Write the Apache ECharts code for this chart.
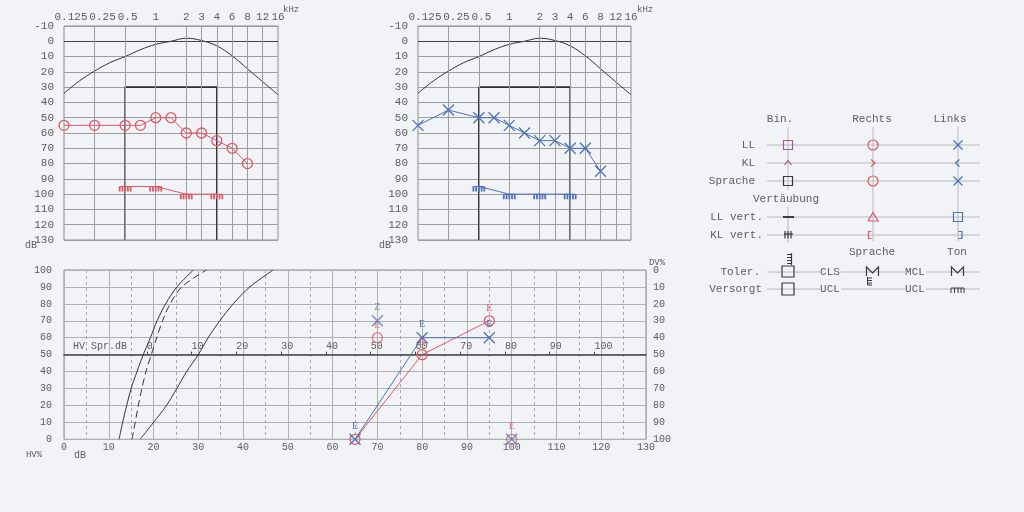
<!DOCTYPE html>
<html>
<head>
<meta charset="utf-8">
<script src="https://cdn.jsdelivr.net/npm/echarts@6/dist/echarts.min.js"></script>
<style>
  html, body { margin: 0; padding: 0; background: #f2f3f7; }
  #chart { width: 1024px; height: 512px; }
</style>
</head>
<body>
<div id="chart"></div>
<script>
  // Tonaudiogramm: Frequenzspalten in Halboktaven (kHz)
  const freqs = ['0.125', '0.18', '0.25', '0.35', '0.5', '0.75', '1', '1.5', '2', '3', '4', '6', '8', '12', '16'];
  const freqHidden = ['0.18', '0.35', '0.75', '1.5'];
  const gridFreqs = ['0.25', '0.5', '1', '2', '3', '4', '6', '8', '12'];
  const dbRange = [-10, 130];

  // Hörschwelle normal (schwarze Kurve)
  const normalCurve = [34, 26, 19.5, 14, 10, 5.5, 2, 0, -2, -0.5, 3, 9.5, 18, 26.5, 35];
  // Kasten 0.5 - 4 kHz
  const boxFreqs = ['0.5', '0.5', '4', '4'];
  const boxDb = [130, 30, 30, 130];

  // Luftleitung
  const acFreqs = ['0.125', '0.25', '0.5', '0.75', '1', '1.5', '2', '3', '4', '6', '8'];
  const rightAc = [55, 55, 55, 55, 50, 50, 60, 60, 65, 70, 80];
  const leftAc = [55, 45, 50, 50, 55, 60, 65, 65, 70, 70, 85];
  // Unbehaglichkeitsschwelle (UCL)
  const uclFreqs = ['0.5', '1', '2', '4'];
  const rightUcl = [95, 95, 100, 100];
  const leftUcl = [95, 100, 100, 100];

  // Sprachaudiogramm: Normkurven (dB, %)
  const curvePct = [0, 10, 20, 30, 40, 50, 60, 70, 80, 90, 100];
  const numberCurveDb = [12.3, 13.1, 14, 15, 16.3, 17.7, 19.3, 20.8, 22.7, 25.2, 28.9];
  const dashCurveDb = [15.2, 15.9, 16.6, 17.4, 18.3, 19.5, 20.7, 22, 23.7, 26.3, 31.8];
  const monoCurveDb = [17, 20, 22.9, 25.2, 27.4, 30, 32.2, 34.8, 37.8, 41.5, 46.7];
  const hvLabels = [0, 10, 20, 30, 40, 50, 60, 70, 80, 90, 100];

  // Sprachverstehen
  const speechDb = [65, 80, 95];
  const rightSpeech = [0, 50, 70];
  const rightSpeechTag = ['', 'E', 'E'];
  const leftSpeech = [0, 60, 60];
  const leftSpeechTag = ['E', 'E', 'E'];
  const rightExtraDb = [70, 100];
  const rightExtraPct = [60, 0];
  const rightExtraTag = ['E', 'E'];
  const leftExtraDb = [70, 100];
  const leftExtraPct = [70, 0];
  const leftExtraTag = ['Z', ''];

  const RED = '#dc5a68';
  const BLUE = '#4d72b8';
  const PURPLE = '#9c5c9c';
  const INK = '#3a3a3a';
  const TXT = '#5c5c5c';
  const MONO = '"Liberation Mono", "DejaVu Sans Mono", monospace';
  const X_PATH = 'path://M0,0L10,10M10,0L0,10';
  const UCL_PATH = 'path://M0,0L12,0M0,0L0,6M3,0L3,6M6,0L6,6M9,0L9,6M12,0L12,6';

  const fIdx = (f) => freqs.indexOf(f);
  const zipF = (fs, vals) => fs.map((f, i) => [fIdx(f), vals[i]]);
  const zip = (a, b) => a.map((v, i) => [v, b[i]]);

  const freqAxis = (gridIndex) => ({
    type: 'value',
    gridIndex,
    min: 0,
    max: freqs.length - 1,
    interval: 1,
    position: 'top',
    axisLine: { show: false },
    axisTick: { show: false },
    splitLine: { show: false },
    axisLabel: {
      margin: 3,
      color: TXT,
      fontSize: 11,
      fontFamily: MONO,
      formatter: (v) => {
        const f = freqs[v];
        if (!f || freqHidden.includes(f)) return '';
        if (f === '0.125') return '{a|' + f + '}';
        if (f === '0.25') return '{b|' + f + '}';
        if (f === '0.5') return '{c|' + f + '}';
        return f;
      },
      rich: {
        a: { padding: [0, 0, 0, 14], fontSize: 11, fontFamily: MONO, color: TXT },
        b: { padding: [0, 0, 0, 16], fontSize: 11, fontFamily: MONO, color: TXT },
        c: { padding: [0, 0, 0, 5], fontSize: 11, fontFamily: MONO, color: TXT },
      },
    },
  });

  const dbAxis = (gridIndex) => ({
    type: 'value',
    gridIndex,
    inverse: true,
    min: dbRange[0],
    max: dbRange[1],
    interval: 10,
    axisLine: { show: false },
    axisTick: { show: false },
    axisLabel: { margin: 10, color: TXT, fontSize: 11, fontFamily: MONO },
    splitLine: { lineStyle: { color: '#9c9c9c', width: 1 } },
  });

  const audioSeries = (idx, ac, ucl, color, symbol, size) => [
    {
      type: 'line',
      xAxisIndex: idx,
      yAxisIndex: idx,
      data: normalCurve.map((v, i) => [i, v]),
      smooth: 0.4,
      symbol: 'none',
      lineStyle: { color: '#333', width: 1 },
      silent: true,
      markLine: {
        silent: true,
        symbol: 'none',
        label: { show: false },
        animation: false,
        data: [
          { yAxis: 0, lineStyle: { color: '#444', width: 1.2, type: 'solid' } },
          ...gridFreqs.map((f) => ({ xAxis: fIdx(f), lineStyle: { color: '#9c9c9c', width: 1, type: 'solid' } })),
        ],
      },
    },
    {
      type: 'line',
      xAxisIndex: idx,
      yAxisIndex: idx,
      data: zipF(boxFreqs, boxDb),
      symbol: 'none',
      lineStyle: { color: '#2e2e2e', width: 1.6 },
      silent: true,
      z: 3,
    },
    {
      type: 'line',
      xAxisIndex: idx,
      yAxisIndex: idx,
      data: zipF(acFreqs, ac),
      symbol,
      symbolSize: size,
      lineStyle: { color, width: 1 },
      itemStyle: { color: 'rgba(0,0,0,0)', borderColor: color, borderWidth: 1.3 },
      z: 5,
    },
    {
      type: 'line',
      xAxisIndex: idx,
      yAxisIndex: idx,
      data: zipF(uclFreqs, ucl),
      symbol: UCL_PATH,
      symbolSize: [11, 5],
      symbolOffset: [0, 2.5],
      lineStyle: { color, width: 1 },
      itemStyle: { color: 'rgba(0,0,0,0)', borderColor: color, borderWidth: 1.2 },
      z: 5,
    },
  ];

  const tagLabel = (tags, color) => ({
    show: true,
    position: 'top',
    distance: 2,
    color,
    fontSize: 10,
    fontFamily: '"Liberation Serif", serif',
    formatter: (p) => tags[p.dataIndex],
  });

  // Legende rechts
  const T = (x, y, s, align, size) => ({
    type: 'text', x, y, silent: true,
    style: { text: s, fill: TXT, font: (size || 11) + 'px ' + MONO, align: align || 'center', verticalAlign: 'middle' },
  });
  const L = (x1, y1, x2, y2, color, w) => ({
    type: 'line', silent: true, shape: { x1, y1, x2, y2 },
    style: { stroke: color || '#b9b9b9', lineWidth: w || 1 },
  });
  const P = (points, color, w) => ({
    type: 'polyline', silent: true, shape: { points },
    style: { stroke: color, fill: 'none', lineWidth: w || 1.2 },
  });
  const C = (cx, cy, r, color) => ({
    type: 'circle', silent: true, shape: { cx, cy, r },
    style: { stroke: color, fill: 'none', lineWidth: 1.2 },
  });
  const R = (x, y, w, h, color) => ({
    type: 'rect', silent: true, shape: { x, y, width: w, height: h },
    style: { stroke: color, fill: 'none', lineWidth: 1.2 },
  });

  const legend = [];
  [145, 163, 181, 217, 235].forEach((y) => legend.push(L(767, y, 980, y)));
  [272, 289].forEach((y) => {
    legend.push(L(767, y, 820, y), L(841, y, 905, y), L(926, y, 980, y));
  });
  legend.push(L(788, 127, 788, 190), L(788, 207, 788, 243), L(873, 127, 873, 241), L(958, 127, 958, 241));
  legend.push(
    T(780, 119, 'Bin.'), T(872, 119, 'Rechts'), T(950, 119, 'Links'),
    T(755, 145, 'LL', 'right'), T(755, 163, 'KL', 'right'), T(755, 181, 'Sprache', 'right'),
    T(786, 199, 'Vertäubung'),
    T(763, 217, 'LL vert.', 'right'), T(763, 235, 'KL vert.', 'right'),
    T(872, 252, 'Sprache'), T(957, 252, 'Ton'),
    T(760, 272, 'Toler.', 'right'), T(762, 289, 'Versorgt', 'right'),
    T(830, 272, 'CLS'), T(915, 272, 'MCL'), T(830, 289, 'UCL'), T(915, 289, 'UCL')
  );
  legend.push(
    R(783.5, 140.5, 9, 9, PURPLE),
    P([[784.5, 165], [788, 160.5], [791.5, 165]], PURPLE),
    R(783.5, 176.5, 9, 9, INK),
    C(873, 145, 5, RED),
    P([[871, 159.5], [875, 163], [871, 166.5]], RED),
    C(873, 181, 5, RED),
    P([[953.5, 140.5], [962.5, 149.5]], BLUE), P([[962.5, 140.5], [953.5, 149.5]], BLUE),
    P([[959.5, 159.5], [955.5, 163], [959.5, 166.5]], BLUE),
    P([[953.5, 176.5], [962.5, 185.5]], BLUE), P([[962.5, 176.5], [953.5, 185.5]], BLUE),
    L(783, 217, 794, 217, INK, 2),
    P([[868, 221], [873, 212.5], [878, 221], [868, 221]], RED),
    R(953.5, 212.5, 9, 9, BLUE),
    L(784, 234, 793, 234, INK, 1.2),
    L(785, 231, 785, 238.5, INK, 1.2), L(788, 231, 788, 238.5, INK, 1.2), L(791, 231, 791, 238.5, INK, 1.2),
    P([[871.5, 231.5], [868.5, 231.5], [868.5, 238.5], [871.5, 238.5]], RED),
    P([[958.5, 231.5], [962, 231.5], [962, 238.5], [958.5, 238.5]], BLUE),
    R(782, 266, 12, 11, INK),
    L(791.5, 253, 791.5, 265, INK, 1.2),
    L(787, 254.5, 791.5, 254.5, INK), L(787, 257.5, 791.5, 257.5, INK),
    L(787, 260.5, 791.5, 260.5, INK), L(787, 263.5, 791.5, 263.5, INK),
    P([[866.5, 276], [866.5, 267], [872.5, 273], [878.5, 267], [878.5, 276]], INK),
    L(867.5, 277, 867.5, 285, INK),
    L(867.5, 278, 872, 278, INK), L(867.5, 280.5, 872, 280.5, INK),
    L(867.5, 283, 872, 283, INK), L(867.5, 285, 872, 285, INK),
    P([[951.5, 276], [951.5, 267], [957.5, 273], [963.5, 267], [963.5, 276]], INK),
    R(782, 283, 12, 12, INK),
    L(951, 288, 964, 288, INK),
    L(951, 288, 951, 293, INK), L(954.5, 288, 954.5, 293, INK), L(958, 288, 958, 293, INK),
    L(961, 288, 961, 293, INK), L(964, 288, 964, 293, INK)
  );

  const titles = [
    { type: 'text', x: 283, y: 10, silent: true, style: { text: 'kHz', fill: TXT, font: '9px ' + MONO, verticalAlign: 'middle' } },
    { type: 'text', x: 637, y: 10, silent: true, style: { text: 'kHz', fill: TXT, font: '9px ' + MONO, verticalAlign: 'middle' } },
    T(31, 245, 'dB', 'center', 10),
    T(385, 245, 'dB', 'center', 10),
    T(34, 455, 'HV%', 'center', 9),
    T(80, 455, 'dB', 'center', 10),
    T(657, 263, 'DV%', 'center', 9),
    T(73, 346, 'HV Spr.dB', 'left', 10),
  ];

  const chart = echarts.init(document.getElementById('chart'));

  const option = {
    backgroundColor: '#f2f3f7',
    animation: false,
    grid: [
      { left: 64, top: 26, width: 214, height: 214, show: true, borderColor: '#8c8c8c', borderWidth: 1, outerBoundsMode: 'none' },
      { left: 418, top: 26, width: 213, height: 214, show: true, borderColor: '#8c8c8c', borderWidth: 1, outerBoundsMode: 'none' },
      { left: 64, top: 270, width: 582, height: 169.3, show: true, borderColor: '#8c8c8c', borderWidth: 1, outerBoundsMode: 'none' },
    ],
    xAxis: [
      freqAxis(0),
      freqAxis(1),
      {
        type: 'value',
        gridIndex: 2,
        min: 0,
        max: 130,
        interval: 10,
        position: 'bottom',
        axisLine: { show: false },
        axisTick: { show: false },
        axisLabel: { margin: 3, color: TXT, fontSize: 10, fontFamily: MONO },
        splitLine: { lineStyle: { color: '#b0b0b0', width: 1 } },
        minorTick: { show: false, splitNumber: 2 },
        minorSplitLine: { show: true, lineStyle: { color: '#a8a8a8', width: 1, type: [3, 3] } },
      },
      {
        type: 'value',
        gridIndex: 2,
        min: -18.5,
        max: 111.5,
        position: 'top',
        offset: -84.65,
        axisLine: { show: true, lineStyle: { color: '#444', width: 1.5 } },
        axisTick: { show: true, length: 3, customValues: hvLabels, lineStyle: { color: '#444' } },
        axisLabel: { customValues: hvLabels, align: 'left', margin: 3, color: TXT, fontSize: 10, fontFamily: MONO },
        splitLine: { show: false },
      },
    ],
    yAxis: [
      dbAxis(0),
      dbAxis(1),
      {
        type: 'value',
        gridIndex: 2,
        min: 0,
        max: 100,
        interval: 10,
        axisLine: { show: false },
        axisTick: { show: false },
        axisLabel: { margin: 12, color: TXT, fontSize: 10, fontFamily: MONO },
        splitLine: { lineStyle: { color: '#b0b0b0', width: 1 } },
      },
      {
        type: 'value',
        gridIndex: 2,
        position: 'right',
        inverse: true,
        min: 0,
        max: 100,
        interval: 10,
        axisLine: { show: false },
        axisTick: { show: false },
        axisLabel: { margin: 7, color: TXT, fontSize: 10, fontFamily: MONO },
        splitLine: { show: false },
      },
    ],
    series: [
      ...audioSeries(0, rightAc, rightUcl, RED, 'circle', 10),
      ...audioSeries(1, leftAc, leftUcl, BLUE, X_PATH, 11),
      {
        type: 'line', xAxisIndex: 2, yAxisIndex: 2, silent: true,
        data: zip(numberCurveDb, curvePct), smooth: 0.3, symbol: 'none',
        lineStyle: { color: '#333', width: 1 },
      },
      {
        type: 'line', xAxisIndex: 2, yAxisIndex: 2, silent: true,
        data: zip(dashCurveDb, curvePct), smooth: 0.3, symbol: 'none',
        lineStyle: { color: '#333', width: 1, type: [7, 4] },
      },
      {
        type: 'line', xAxisIndex: 2, yAxisIndex: 2, silent: true,
        data: zip(monoCurveDb, curvePct), smooth: 0.3, symbol: 'none',
        lineStyle: { color: '#333', width: 1 },
      },
      {
        type: 'line', xAxisIndex: 2, yAxisIndex: 2,
        data: zip(speechDb, rightSpeech), symbol: 'circle', symbolSize: 10,
        lineStyle: { color: RED, width: 1 },
        itemStyle: { color: 'rgba(0,0,0,0)', borderColor: RED, borderWidth: 1.3 },
        label: tagLabel(rightSpeechTag, RED), z: 5,
      },
      {
        type: 'line', xAxisIndex: 2, yAxisIndex: 2,
        data: zip(speechDb, leftSpeech), symbol: X_PATH, symbolSize: 11,
        lineStyle: { color: BLUE, width: 1 },
        itemStyle: { color: 'rgba(0,0,0,0)', borderColor: BLUE, borderWidth: 1.3 },
        label: tagLabel(leftSpeechTag, BLUE), z: 5,
      },
      {
        type: 'scatter', xAxisIndex: 2, yAxisIndex: 2,
        data: zip(rightExtraDb, rightExtraPct), symbol: 'circle', symbolSize: 10,
        itemStyle: { color: 'rgba(0,0,0,0)', borderColor: RED, borderWidth: 1.3 },
        label: tagLabel(rightExtraTag, RED), z: 5,
      },
      {
        type: 'scatter', xAxisIndex: 2, yAxisIndex: 2,
        data: zip(leftExtraDb, leftExtraPct), symbol: X_PATH, symbolSize: 11,
        itemStyle: { color: 'rgba(0,0,0,0)', borderColor: BLUE, borderWidth: 1.3 },
        label: tagLabel(leftExtraTag, BLUE), z: 6,
      },
    ],
    graphic: [...titles, ...legend],
  };

  chart.setOption(option);
</script>
</body>
</html>
